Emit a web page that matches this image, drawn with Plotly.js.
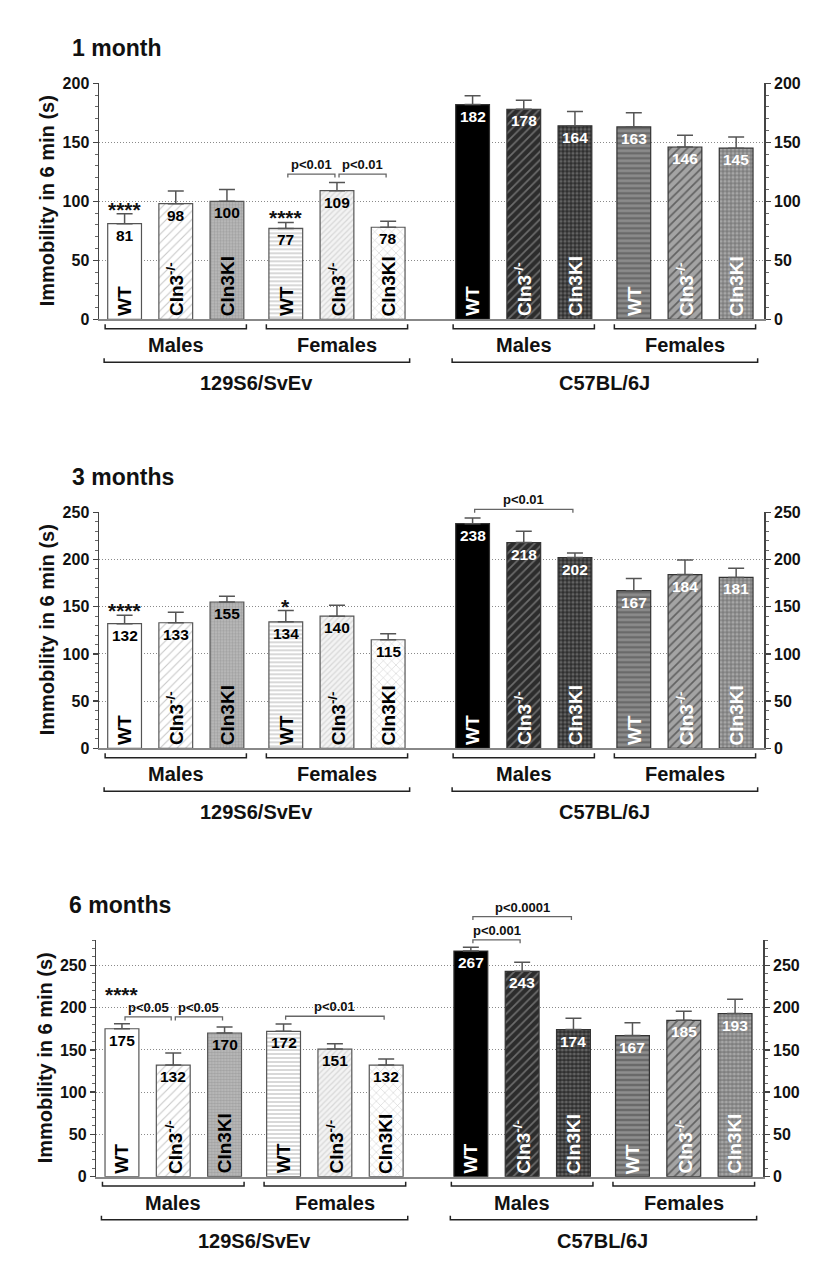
<!DOCTYPE html>
<html><head><meta charset="utf-8">
<script src="https://cdn.plot.ly/plotly-3.0.1.min.js"></script>
<style>body{margin:0;background:#fff}#chart{width:834px;height:1284px}</style>
</head><body><div id="chart"></div>
<script>
// ---------- data ----------
const genotypes = ['WT', 'Cln3<sup>-/-</sup>', 'Cln3KI'];
const sexes = ['Males', 'Females'];
const strains = ['129S6/SvEv', 'C57BL/6J'];
const panelTitles = ['1 month', '3 months', '6 months'];
const yAxisTitle = 'Immobility in 6 min (s)';

// order in each array: Males WT, Males Cln3-/-, Males Cln3KI, Females WT, Females Cln3-/-, Females Cln3KI
const m1_129 = [81, 98, 100, 77, 109, 78];
const m1_129_err = [8.5, 10.7, 10, 5, 7, 5];
const m1_C57 = [182, 178, 164, 163, 146, 145];
const m1_C57_err = [7.5, 7.6, 12, 12, 10, 9.5];

const m3_129 = [132, 133, 155, 134, 140, 115];
const m3_129_err = [9, 11, 6, 12, 11.5, 6.4];
const m3_C57 = [238, 218, 202, 167, 184, 181];
const m3_C57_err = [6, 12, 5, 13, 15.5, 9.7];

const m6_129 = [175, 132, 170, 172, 151, 132];
const m6_129_err = [6, 14.4, 7, 8.7, 6.4, 7.3];
const m6_C57 = [267, 243, 174, 167, 185, 193];
const m6_C57_err = [4.5, 10.7, 13.5, 15, 10.7, 17];

// significance marks: [panel, strain, barFrom, barTo, level, label]
const sigBrackets = [
  [0, 0, 3, 4, 123.1, 'p<0.01'],
  [0, 0, 4, 5, 123.1, 'p<0.01'],
  [1, 1, 0, 2, 253.2, 'p<0.01'],
  [2, 0, 0, 1, 189, 'p<0.05'],
  [2, 0, 1, 2, 189, 'p<0.05'],
  [2, 0, 3, 5, 189.8, 'p<0.01'],
  [2, 1, 0, 1, 280.2, 'p<0.001'],
  [2, 1, 0, 2, 307.7, 'p<0.0001']
];
// stars: [panel, strain, bar, level, text]
const stars = [
  [0, 0, 0, 95.4, '****'],
  [0, 0, 3, 88.4, '****'],
  [1, 0, 0, 149, '****'],
  [1, 0, 3, 153.6, '*'],
  [2, 0, 0, 219, '****']
];

const panels = [
  {v129: m1_129, e129: m1_129_err, vC57: m1_C57, eC57: m1_C57_err},
  {v129: m3_129, e129: m3_129_err, vC57: m3_C57, eC57: m3_C57_err},
  {v129: m6_129, e129: m6_129_err, vC57: m6_C57, eC57: m6_C57_err}
];

// ---------- layout geometry ----------
const W = 834, H = 1284;
const FONT = 'Liberation Sans, Arial, sans-serif';
const dom = [
  {x: [99 / W, 764.3 / W], y: [964.7 / H, 1200.7 / H], max: 200},
  {x: [99 / W, 764.3 / W], y: [535.7 / H, 771.7 / H], max: 250},
  {x: [96.3 / W, 763.3 / W], y: [107.3 / H, 344 / H], max: 280}
];
function pos(strain, sex, geno) { return strain * 6.8 + sex * 3.15 + geno; }
function barPos(strain, i) { return pos(strain, Math.floor(i / 3), i % 3); }
function vp(p, v) { const d = dom[p]; return d.y[0] + (d.y[1] - d.y[0]) * v / d.max; }
function below(p, px) { return dom[p].y[0] - px / H; }

// bar fills: [bgcolor, shape, fgcolor, size, solidity]
const style = [
  { // 129S6
    fills: [
      ['#ffffff', '', '#ffffff', 8, 0.3],
      ['#ffffff', '/', '#c8c8c8', 6, 0.18],
      ['#bdbdbd', '.', '#a2a2a2', 3, 0.5],
      ['#ffffff', '-', '#d4d4d4', 4, 0.45],
      ['#f3f3f3', '/', '#d8d8d8', 4, 0.3],
      ['#ffffff', 'x', '#cfcfcf', 6, 0.18]
    ],
    line: '#555', txt: '#000'
  },
  { // C57
    fills: [
      ['#000000', '', '#000000', 8, 0.3],
      ['#2c2c2c', '/', '#6c6c6c', 6, 0.28],
      ['#2e2e2e', '.', '#626262', 4, 0.5],
      ['#6a6a6a', '-', '#8e8e8e', 5, 0.5],
      ['#a4a4a4', '/', '#626262', 6, 0.28],
      ['#7e7e7e', '.', '#a6a6a6', 4, 0.5]
    ],
    line: '#333', txt: '#fff'
  }
];

const traces = [];
const annotations = [];
const shapes = [];
const layout = {
  width: W, height: H,
  margin: {l: 0, r: 0, t: 0, b: 0},
  paper_bgcolor: '#fff', plot_bgcolor: 'rgba(0,0,0,0)',
  barmode: 'overlay', showlegend: false,
  font: {family: FONT, color: '#111'},
  annotations: annotations, shapes: shapes
};

function yAxisBase(p) {
  return {
    domain: dom[p].y, range: [0, dom[p].max], fixedrange: true,
    tickmode: 'linear', tick0: 0, dtick: 50,
    ticks: 'outside', ticklen: 5, tickwidth: 1.5, tickcolor: '#444',
    showline: true, linecolor: '#444', linewidth: 1.5,
    tickfont: {family: FONT, size: 16, color: '#111', weight: 'bold'},
    zeroline: false,
    minor: {dtick: 10, tick0: 0, ticks: 'outside', ticklen: 3, tickwidth: 1, tickcolor: '#666', showgrid: false}
  };
}

panels.forEach((pd, p) => {
  const xs = p === 0 ? '' : String(p + 1);
  const yl = p === 0 ? '' : String(p + 1);
  const yr = String(p + 4);
  layout['xaxis' + xs] = {
    domain: dom[p].x, range: [-0.5, 12.5], fixedrange: true,
    anchor: 'y' + yl, showline: true, linecolor: '#888', linewidth: 2,
    ticks: '', showticklabels: false, showgrid: false, zeroline: false
  };
  const ya = yAxisBase(p);
  ya.anchor = 'x' + xs; ya.side = 'left';
  ya.showgrid = true; ya.gridcolor = '#8a8a8a'; ya.griddash = '1px,2px'; ya.gridwidth = 1;
  layout['yaxis' + yl] = ya;
  const yb = yAxisBase(p);
  yb.anchor = 'x' + xs; yb.side = 'right'; yb.overlaying = 'y' + yl; yb.showgrid = false;
  layout['yaxis' + yr] = yb;

  [[pd.v129, pd.e129, 'y' + yl], [pd.vC57, pd.eC57, 'y' + yr]].forEach(([vals, errs, yax], s) => {
    const st = style[s];
    vals.forEach((v, i) => {
      const f = st.fills[i];
      const x = barPos(s, i);
      traces.push({
        type: 'bar', x: [x], y: [v], width: 0.66,
        xaxis: 'x' + xs, yaxis: yax, hoverinfo: 'skip',
        marker: {
          color: f[0], line: {color: st.line, width: 1.2},
          pattern: {shape: f[1], bgcolor: f[0], fgcolor: f[2], size: f[3], solidity: f[4],
                    fillmode: 'replace', fgopacity: 1}
        },
        error_y: {type: 'data', symmetric: false, array: [errs[i]], arrayminus: [0],
                  color: '#555', thickness: 1.5, width: 8}
      });
      annotations.push({xref: 'x' + xs, yref: yax, x: x, y: v, xanchor: 'center', yanchor: 'top', yshift: -1,
        text: String(v), showarrow: false,
        font: {family: FONT, size: 15.5, color: st.txt, weight: 'bold'}});
      annotations.push({xref: 'x' + xs, yref: yax, x: x, y: 0, xanchor: 'center', yanchor: 'bottom', yshift: 1,
        textangle: -90, text: genotypes[i % 3], showarrow: false,
        font: {family: FONT, size: 19, color: st.txt, weight: 'bold'}});
    });
    sexes.forEach((sx, k) => {
      const a = pos(s, k, 0) - 0.38, b = pos(s, k, 2) + 0.38;
      const yl0 = below(p, 9.4), yt = below(p, 5);
      shapes.push({type: 'path', xref: 'x' + xs, yref: 'paper',
        path: `M ${a},${yt} L ${a},${yl0} L ${b},${yl0} L ${b},${yt}`,
        line: {color: '#222', width: 1.5}});
      annotations.push({xref: 'x' + xs, yref: 'paper', x: (pos(s, k, 0) + pos(s, k, 2)) / 2, y: below(p, 26),
        xanchor: 'center', yanchor: 'middle', text: sx, showarrow: false,
        font: {family: FONT, size: 20, color: '#111', weight: 'bold'}});
    });
    const a = pos(s, 0, 0) - 0.4, b = pos(s, 1, 2) + 0.42;
    const yl1 = below(p, 43), yt1 = below(p, 39);
    shapes.push({type: 'path', xref: 'x' + xs, yref: 'paper',
      path: `M ${a},${yt1} L ${a},${yl1} L ${b},${yl1} L ${b},${yt1}`,
      line: {color: '#222', width: 1.5}});
    annotations.push({xref: 'x' + xs, yref: 'paper', x: (pos(s, 0, 0) + pos(s, 1, 2)) / 2, y: below(p, 64),
      xanchor: 'center', yanchor: 'middle', text: strains[s], showarrow: false,
      font: {family: FONT, size: 20, color: '#111', weight: 'bold'}});
  });

  annotations.push({xref: 'paper', yref: 'paper', x: (p === 2 ? 66.7 : 70) / W, xanchor: 'left',
    y: dom[p].y[1] + 35 / H, yanchor: 'middle', text: panelTitles[p], showarrow: false,
    font: {family: FONT, size: 23, color: '#111', weight: 'bold'}});
  annotations.push({xref: 'paper', yref: 'paper', x: (p === 2 ? 45 : 47) / W, xanchor: 'center',
    y: (dom[p].y[0] + dom[p].y[1]) / 2, yanchor: 'middle', textangle: -90, text: yAxisTitle, showarrow: false,
    font: {family: FONT, size: 20, color: '#111', weight: 'bold'}});
});

sigBrackets.forEach(([p, s, i0, i1, lvl, lab]) => {
  const xs = p === 0 ? '' : String(p + 1);
  const gap = 0.04;
  const a = barPos(s, i0) + (i0 === 0 && p === 2 && s === 0 ? 0.06 : gap);
  const b = barPos(s, i1) - gap;
  const yl0 = vp(p, lvl), yt = yl0 - 3.5 / H;
  shapes.push({type: 'path', xref: 'x' + xs, yref: 'paper',
    path: `M ${a},${yt} L ${a},${yl0} L ${b},${yl0} L ${b},${yt}`,
    line: {color: '#666', width: 1.3}});
  annotations.push({xref: 'x' + xs, yref: 'paper', x: (a + b) / 2, y: yl0 + 9.5 / H,
    xanchor: 'center', yanchor: 'middle', text: lab, showarrow: false,
    font: {family: FONT, size: 13, color: '#111', weight: 'bold'}});
});
stars.forEach(([p, s, i, lvl, t]) => {
  const xs = p === 0 ? '' : String(p + 1);
  annotations.push({xref: 'x' + xs, yref: 'paper', x: barPos(s, i), y: vp(p, lvl),
    xanchor: 'center', yanchor: 'middle', yshift: -3, text: t, showarrow: false,
    font: {family: FONT, size: 21, color: '#111', weight: 'bold'}});
});

Plotly.newPlot('chart', traces, layout, {staticPlot: true, displayModeBar: false});
</script>
</body></html>
